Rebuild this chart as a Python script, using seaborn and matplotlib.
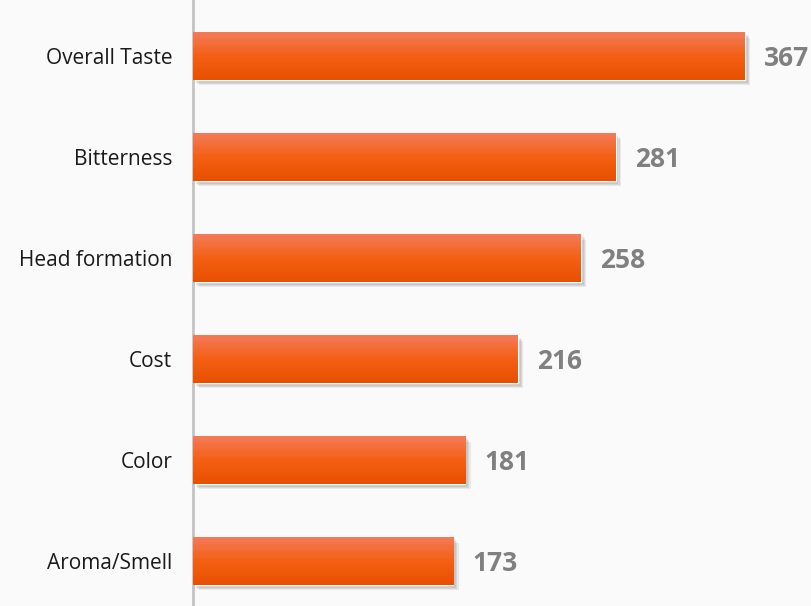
#!/usr/bin/env python3

import numpy as np
import pandas as pd
from matplotlib import pyplot as plt
from matplotlib import patheffects as pe
from matplotlib.colors import LinearSegmentedColormap
import seaborn as sns

categories = ["Overall Taste", "Bitterness", "Head formation", "Cost", "Color", "Aroma/Smell"]
counts = [367, 281, 258, 216, 181, 173]

df = pd.DataFrame({"factor": categories, "count": counts})

sns.set_style("white")
plt.rcParams["font.family"] = ["Open Sans", "DejaVu Sans"]

bg = "#fafafa"
fig = plt.figure(figsize=(8.11, 6.06), dpi=100, facecolor=bg)
ax = fig.add_axes([193 / 811, 0, 1 - 193 / 811, 1])
ax.set_facecolor(bg)

sns.barplot(x="count", y="factor", data=df, color="#ee5a10", width=0.475,
            saturation=1, ax=ax)

# vertical gradient on each bar, light on top and darker at the bottom
grad = LinearSegmentedColormap.from_list("bar", ["#f37b58", "#f46014", "#e85000"])
shadow = [pe.SimplePatchShadow(offset=(o, -o), shadow_rgbFace="#000000", alpha=0.07)
          for o in (1, 2, 3, 4)]
for p in ax.patches:
    x0, y0 = p.get_x(), p.get_y()
    w, h = p.get_width(), p.get_height()
    p.set_path_effects(shadow + [pe.Normal()])
    im = ax.imshow(np.linspace(0, 1, 64).reshape(-1, 1), cmap=grad, aspect="auto",
                   extent=(x0, x0 + w, y0 + h, y0), origin="upper", zorder=3)
    im.set_clip_path(p)

for i, v in enumerate(counts):
    ax.annotate(str(v), xy=(v, i), xytext=(14, -2), textcoords="offset points",
                va="center", ha="left", fontsize=19, fontweight="bold", color="#808080")

ax.set_xlim(0, 411)
ax.set_ylim(5.446, -0.554)
ax.set_xlabel("")
ax.set_ylabel("")
ax.set_xticks([])
ax.tick_params(axis="y", length=0, pad=15, labelsize=15, labelcolor="#1a1a1a")
for s in ["top", "right", "bottom"]:
    ax.spines[s].set_visible(False)
ax.spines["left"].set_color("#c4c4c4")
ax.spines["left"].set_linewidth(2)

fig.savefig("out.png", dpi=100, facecolor=bg)
